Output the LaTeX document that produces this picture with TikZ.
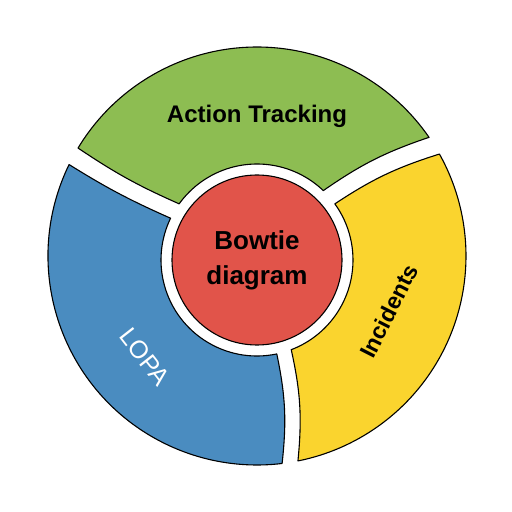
\documentclass[tikz,border=0pt]{standalone}
\usepackage{fontspec}
\setmainfont{Liberation Sans}
\usetikzlibrary{calc}
\definecolor{actgreen}{RGB}{141,189,82}
\definecolor{lopablue}{RGB}{74,140,192}
\definecolor{incyellow}{RGB}{250,212,46}
\definecolor{bowred}{RGB}{225,84,74}

\begin{document}
\begin{tikzpicture}[x=1pt, y=1pt,
    seg/.style={draw=black, line width=1.1pt, line join=round},
    lbl/.style={inner sep=0pt, font=\bfseries\fontsize{24}{28}\selectfont}
]
    \useasboundingbox (0,0) rectangle (512,512);
    \coordinate (O) at (257,256);
    \coordinate (R) at (257,252);

    % ring segments
    \draw[seg, fill=actgreen] ($(O)+(148.9:209)$) arc[start angle=148.9, end angle=34.6, radius=209]
        to[bend right=8] ($(R)+(46.3:96)$) arc[start angle=46.3, end angle=144.2, radius=96]
        to[bend left=5] ($(O)+(148.9:209)$) -- cycle;
    \draw[seg, fill=lopablue] ($(O)+(154.05:209)$) arc[start angle=154.05, end angle=276.9, radius=209]
        to[bend right=9] ($(R)+(-78.1:96)$) arc[start angle=281.9, end angle=154.2, radius=96]
        to[bend left=4] ($(O)+(154.05:209)$) -- cycle;
    \draw[seg, fill=incyellow] ($(O)+(29.2:209)$) arc[start angle=29.2, end angle=-78.7, radius=209]
        to[bend right=9] ($(R)+(-69.1:96)$) arc[start angle=-69.1, end angle=35.8, radius=96]
        to[bend left=8] ($(O)+(29.2:209)$) -- cycle;

    \node[seg, circle, fill=bowred, minimum size=170, inner sep=0pt, align=center,
        font=\bfseries\fontsize{26}{35}\selectfont] (bow) at (R) {Bowtie\\diagram};

    \node[lbl] (act) at (257,396) {Action Tracking};
    \node[lbl, font=\fontsize{25}{28}\selectfont, text=white, rotate=-52] (lopa) at (145,155) {LOPA};
    \node[lbl, font=\bfseries\fontsize{23}{27}\selectfont, rotate=63] (inc) at (389,201) {Incidents};
\end{tikzpicture}
\end{document}
